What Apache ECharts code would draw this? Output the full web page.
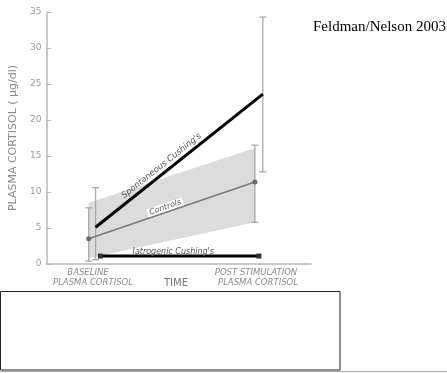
<!DOCTYPE html>
<html><head><meta charset="utf-8">
<script src="https://cdn.jsdelivr.net/npm/echarts@6/dist/echarts.min.js"></script>
<style>html,body{margin:0;padding:0;background:#fff}#c{width:447px;height:373px}</style>
</head><body><div id="c"></div>
<script>
// Data (time position on a 0-100 scale, plasma cortisol in µg/dl)
var yTicks = [0, 5, 10, 15, 20, 25, 30, 35];
var groups = ["Spontaneous Cushing's", "Controls", "Iatrogenic Cushing's"];
var spontX = [18.6, 81.8];
var spontMean = [5.1, 23.6];
var spontLow = [0.6, 12.8];
var spontHigh = [10.6, 34.3];
var ctrlX = [16.0, 78.8];
var ctrlMean = [3.5, 11.4];
var ctrlLow = [0.4, 5.8];
var ctrlHigh = [7.8, 16.5];
var iatroX = [20.4, 80.3];
var iatroMean = [1.1, 1.1];
var bandX = [16.0, 78.8];
var bandLow = [0.8, 5.8];
var bandHigh = [8.5, 16.1];
var xLabels1 = ['BASELINE', 'PLASMA CORTISOL'];
var xLabels2 = ['POST STIMULATION', 'PLASMA CORTISOL'];
var xTitle = 'TIME';
var yTitle = 'PLASMA CORTISOL ( µg/dl)';
var credit = 'Feldman/Nelson 2003';

function pairs(xs, ys) { return xs.map(function (x, i) { return [x, ys[i]]; }); }
function bars(xs, lo, hi) { return xs.map(function (x, i) { return [x, lo[i], hi[i]]; }); }

var chart = echarts.init(document.getElementById('c'), null, {renderer: 'canvas'});

function errRender(params, api) {
  var p1 = api.coord([api.value(0), api.value(1)]);
  var p2 = api.coord([api.value(0), api.value(2)]);
  var w = 3.5;
  var st = {stroke: '#a8a8a8', lineWidth: 1.3};
  return {type: 'group', children: [
    {type: 'line', shape: {x1: p1[0], y1: p1[1], x2: p2[0], y2: p2[1]}, style: st},
    {type: 'line', shape: {x1: p1[0] - w, y1: p1[1], x2: p1[0] + w, y2: p1[1]}, style: st},
    {type: 'line', shape: {x1: p2[0] - w, y1: p2[1], x2: p2[0] + w, y2: p2[1]}, style: st}
  ]};
}

function bandRender(params, api) {
  if (params.dataIndex !== 0) return null;
  var pts = [
    api.coord([bandX[0], bandLow[0]]), api.coord([bandX[1], bandLow[1]]),
    api.coord([bandX[1], bandHigh[1]]), api.coord([bandX[0], bandHigh[0]])
  ];
  return {type: 'polygon', shape: {points: pts}, style: {fill: '#dcdcdc'}};
}

// labels along lines
var labelSpecs = [
  {name: groups[0], xs: spontX, ys: spontMean, f: 0.42, off: 7, bg: null, size: 8.5},
  {name: groups[1], xs: ctrlX, ys: ctrlMean, f: 0.47, off: 5, bg: '#fff', size: 8},
  {name: groups[2], xs: iatroX, ys: iatroMean, f: 0.46, off: 4.5, bg: null, size: 8}
];
function labelRender(params, api) {
  var s = labelSpecs[params.dataIndex];
  var a = api.coord([s.xs[0], s.ys[0]]);
  var b = api.coord([s.xs[1], s.ys[1]]);
  var ang = Math.atan2(-(b[1] - a[1]), b[0] - a[0]);
  var mx = a[0] + (b[0] - a[0]) * s.f;
  var my = a[1] + (b[1] - a[1]) * s.f;
  var nx = -Math.sin(ang) * s.off, ny = -Math.cos(ang) * s.off;
  var st = {text: s.name, x: 0, y: 0, align: 'center', verticalAlign: 'middle',
    font: 'italic ' + s.size + 'px "DejaVu Sans"', fill: '#555'};
  if (s.bg) { st.backgroundColor = s.bg; st.padding = [0, 2]; }
  return {type: 'text', x: mx + nx, y: my + ny, rotation: ang, style: st};
}

var axisCol = '#b8b8b8';
var tcol = '#8a8a8a';
var xl = {font: 'italic 8.5px "DejaVu Sans"', fill: tcol, align: 'center', verticalAlign: 'middle', letterSpacing: 1.6};
function xt(text, x, y) { return {type: 'text', x: x, y: y, style: Object.assign({text: text}, xl)}; }
chart.setOption({
  animation: false,
  grid: {left: 42, right: 136, top: 12, bottom: 109},
  xAxis: {type: 'value', min: 0, max: 100, axisLine: {show: true, lineStyle: {color: axisCol, width: 1.5}},
    axisTick: {show: false}, axisLabel: {show: false}, splitLine: {show: false}},
  yAxis: {type: 'value', min: 0, max: 35, interval: 5,
    name: yTitle, nameLocation: 'middle', nameGap: 18,
    nameTextStyle: {color: tcol, fontSize: 11, fontFamily: 'DejaVu Sans', letterSpacing: 3.2},
    axisLine: {show: true, lineStyle: {color: axisCol, width: 1.5}},
    axisTick: {show: true, inside: true, length: 5, lineStyle: {color: axisCol}},
    axisLabel: {color: '#999', fontSize: 9, fontFamily: 'DejaVu Sans', margin: 5,
      formatter: function (v) { return yTicks.indexOf(v) >= 0 ? String(v) : ''; }},
    splitLine: {show: false}},
  series: [
    {type: 'custom', z: 1, renderItem: bandRender, data: [[0]], silent: true},
    {type: 'custom', z: 2, renderItem: errRender, data: bars(ctrlX, ctrlLow, ctrlHigh)},
    {type: 'custom', z: 2, renderItem: errRender, data: bars(spontX, spontLow, spontHigh)},
    {type: 'line', name: groups[1], z: 3, data: pairs(ctrlX, ctrlMean), symbol: 'circle', symbolSize: 5,
      lineStyle: {color: '#7a7a7a', width: 1.5}, itemStyle: {color: '#6a6a6a'}},
    {type: 'line', name: groups[0], z: 4, data: pairs(spontX, spontMean), showSymbol: false,
      lineStyle: {color: '#000', width: 3}},
    {type: 'line', name: groups[2], z: 4, data: pairs(iatroX, iatroMean), symbol: 'rect', symbolSize: 5,
      lineStyle: {color: '#000', width: 3}, itemStyle: {color: '#333'}},
    {type: 'custom', z: 5, renderItem: labelRender, data: [[0], [1], [2]]}
  ],
  graphic: [
    {type: 'text', left: 313, top: 20, style: {text: credit, font: '15px "Liberation Serif"', fill: '#000'}},
    xt(xLabels1[0], 88, 273),
    xt(xLabels1[1], 93, 283),
    {type: 'text', x: 176, y: 283, style: {text: xTitle, font: '10px "DejaVu Sans"', fill: '#777', align: 'center', verticalAlign: 'middle', letterSpacing: 1}},
    xt(xLabels2[0], 256, 273),
    xt(xLabels2[1], 258, 283),
    {type: 'rect', shape: {x: 0.5, y: 291.5, width: 339.5, height: 78.5}, style: {fill: '#fff', stroke: '#222', lineWidth: 1}},
    {type: 'line', shape: {x1: 0, y1: 371.5, x2: 447, y2: 371.5}, style: {stroke: '#aaa', lineWidth: 1}}
  ]
});
</script></body></html>
